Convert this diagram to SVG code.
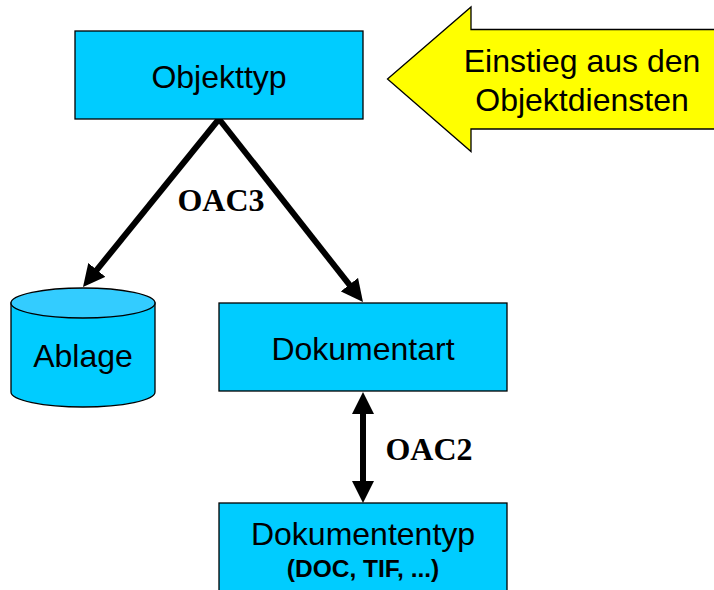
<svg xmlns="http://www.w3.org/2000/svg" width="714" height="590" viewBox="0 0 714 590">
<style>
.box{fill:#00ccff;stroke:#000;stroke-width:1.3}
.t{font-family:"Liberation Sans",Arial,sans-serif;fill:#000;text-anchor:middle;font-size:32px}
.b{font-family:"Liberation Serif","Times New Roman",serif;font-weight:bold;fill:#000;text-anchor:middle;font-size:32px}
.c{fill:none;stroke:#000;stroke-width:6}
</style>
<defs>
<marker id="ah" markerUnits="userSpaceOnUse" viewBox="0 0 22 22" markerWidth="22" markerHeight="22" refX="12" refY="11" orient="auto-start-reverse"><path d="M0 0L22 11L0 22Z" fill="#000"/></marker>
</defs>
<rect width="714" height="590" fill="#fff"/>
<g id="connectors">
<line class="c" x1="219" y1="119" x2="89.300" y2="279.200" marker-end="url(#ah)"/>
<line class="c" x1="219" y1="119" x2="356.800" y2="294.100" marker-end="url(#ah)"/>
<line class="c" x1="363" y1="402" x2="363" y2="493" marker-start="url(#ah)" marker-end="url(#ah)"/>
</g>
<g id="objekttyp"><rect class="box" x="75" y="31" width="288" height="88"/><text class="t" x="219" y="88">Objekttyp</text></g>
<g id="einstieg"><path d="M387.500 79L471 7V29.500H720V129H471V151.500Z" fill="#ffff00" stroke="#000" stroke-width="1.300"/><text class="t" x="582" y="72">Einstieg aus den</text><text class="t" x="582" y="111">Objektdiensten</text></g>
<g id="ablage"><path d="M11 303V392A72 15 0 0 0 155 392V303Z" class="box"/><ellipse cx="83" cy="303" rx="72" ry="15" fill="#33ccff" stroke="#000" stroke-width="1.300"/><text class="t" x="83" y="367">Ablage</text></g>
<g id="dokumentart"><rect class="box" x="219" y="303" width="288" height="88"/><text class="t" x="363" y="360">Dokumentart</text></g>
<g id="dokumententyp"><rect class="box" x="219" y="503" width="288" height="100"/><text class="t" x="363" y="545">Dokumententyp</text><text class="t" x="363" y="577" style="font-size:24.500px;font-weight:bold">(DOC, TIF, ...)</text></g>
<text class="b" x="221" y="211">OAC3</text>
<text class="b" x="429" y="460">OAC2</text>
</svg>
